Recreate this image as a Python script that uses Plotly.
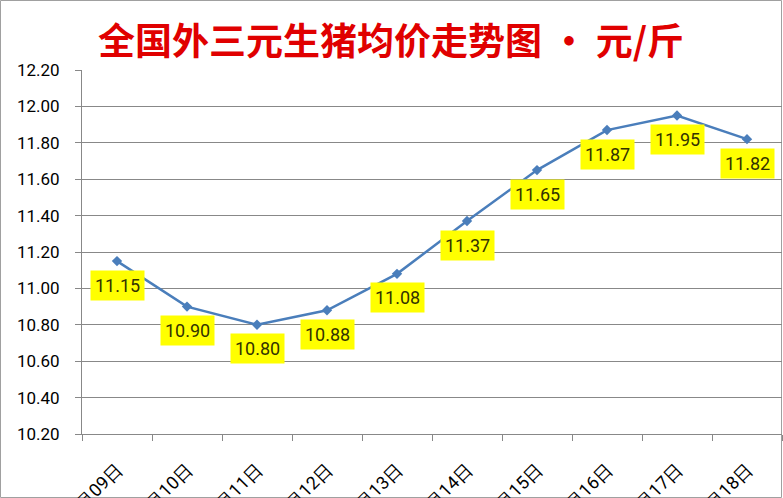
import plotly.graph_objects as go

categories = ["1月09日", "1月10日", "1月11日", "1月12日", "1月13日",
              "1月14日", "1月15日", "1月16日", "1月17日", "1月18日"]
prices = [11.15, 10.90, 10.80, 10.88, 11.08, 11.37, 11.65, 11.87, 11.95, 11.82]
y_ticks = [10.20, 10.40, 10.60, 10.80, 11.00, 11.20, 11.40, 11.60, 11.80, 12.00, 12.20]
title_text = "全国外三元生猪均价走势图 · 元/斤"

W, H = 783, 498
L, R, T, B = 82, 1, 70, 64
pw, ph = W - L - R, H - T - B

fig = go.Figure()
fig.add_trace(go.Scatter(
    x=categories, y=prices, mode="lines+markers",
    line=dict(color="#4A7EBB", width=2.5),
    marker=dict(symbol="diamond", size=8, color="#4A7EBB"),
    hoverinfo="skip", showlegend=False,
))

for c, v in zip(categories, prices):
    fig.add_annotation(
        x=c, y=v, xref="x", yref="y", text=f"{v:.2f}", showarrow=False,
        yshift=-24, bgcolor="#FFFF00", borderpad=4,
        font=dict(family="Roboto, Liberation Sans, sans-serif", size=18, color="#333300"),
    )

fig.add_annotation(
    text=title_text, xref="paper", yref="paper",
    x=(391 - L) / pw, y=1 + (70 - 39) / ph,
    showarrow=False, xanchor="center", yanchor="middle",
    font=dict(family="Noto Sans CJK SC", size=37, color="#E00000", weight="bold"),
)

fig.add_shape(type="rect", xref="paper", yref="paper",
              x0=(0.5 - L) / pw, x1=(W - 1.5 - L) / pw,
              y0=-(B - 0.5) / ph, y1=1 + (T - 0.5) / ph,
              line=dict(color="#A0A0A0", width=1), layer="below")

fig.update_layout(
    width=W, height=H, template="none",
    margin=dict(l=L, r=R, t=T, b=B, autoexpand=False),
    paper_bgcolor="white", plot_bgcolor="white",
    xaxis=dict(type="category", tickson="boundaries", ticks="outside", ticklen=6,
               tickcolor="#888888", showgrid=False, showline=True, linecolor="#888888",
               tickangle=-45, automargin=False, ticklabelstandoff=17,
               tickfont=dict(family="Roboto, Liberation Sans, sans-serif", size=18, color="black"),
               range=[-0.5, 9.5]),
    yaxis=dict(range=[10.2, 12.2], tickvals=y_ticks, ticktext=[f"{t:.2f}" for t in y_ticks],
               ticks="outside", ticklen=6, tickcolor="#888888",
               showgrid=True, gridcolor="#888888", gridwidth=1, ticklabelstandoff=12,
               showline=True, linecolor="#888888", automargin=False, zeroline=False,
               tickfont=dict(family="Roboto, Liberation Sans, sans-serif", size=17, color="black")),
)

fig.write_html("out.html", config={"displayModeBar": False},
               post_script="document.body.style.margin='0';")
